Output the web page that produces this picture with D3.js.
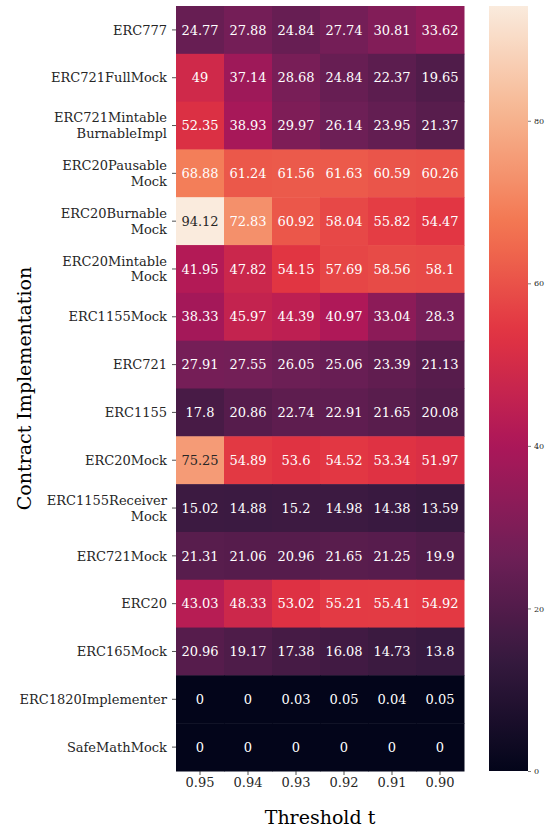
<!DOCTYPE html>
<html><head><meta charset="utf-8">
<script src="https://cdn.jsdelivr.net/npm/d3@7"></script>
<style>body{margin:0;background:#fff;} svg{display:block;font-family:"DejaVu Serif",serif;}</style>
</head><body><svg id="c" width="555" height="830"></svg>
<script>
const rows = ["ERC777","ERC721FullMock","ERC721Mintable\nBurnableImpl","ERC20Pausable\nMock","ERC20Burnable\nMock","ERC20Mintable\nMock","ERC1155Mock","ERC721","ERC1155","ERC20Mock","ERC1155Receiver\nMock","ERC721Mock","ERC20","ERC165Mock","ERC1820Implementer","SafeMathMock"];
const cols = ["0.95","0.94","0.93","0.92","0.91","0.90"];
const values = [
 [24.77,27.88,24.84,27.74,30.81,33.62],
 [49,37.14,28.68,24.84,22.37,19.65],
 [52.35,38.93,29.97,26.14,23.95,21.37],
 [68.88,61.24,61.56,61.63,60.59,60.26],
 [94.12,72.83,60.92,58.04,55.82,54.47],
 [41.95,47.82,54.15,57.69,58.56,58.1],
 [38.33,45.97,44.39,40.97,33.04,28.3],
 [27.91,27.55,26.05,25.06,23.39,21.13],
 [17.8,20.86,22.74,22.91,21.65,20.08],
 [75.25,54.89,53.6,54.52,53.34,51.97],
 [15.02,14.88,15.2,14.98,14.38,13.59],
 [21.31,21.06,20.96,21.65,21.25,19.9],
 [43.03,48.33,53.02,55.21,55.41,54.92],
 [20.96,19.17,17.38,16.08,14.73,13.8],
 [0,0,0.03,0.05,0.04,0.05],
 [0,0,0,0,0,0]
];
const cbTicks = [0,20,40,60,80];
const rocketStops = ["#03051a","#35193e","#701f57","#ad1759","#e13342","#f37651","#f6b48f","#faebdd"];

const svg = d3.select("#c");
const L=176, R=464, T=6, B=771;
const x = d3.scaleBand().domain(cols).range([L,R]);
const y = d3.scaleBand().domain(rows).range([T,B]);
const vmin = 0, vmax = d3.max(values.flat());
const rocket = d3.scaleLinear().domain(d3.range(rocketStops.length).map(i=>i/(rocketStops.length-1))).range(rocketStops).interpolate(d3.interpolateRgb);
const color = v => rocket((v-vmin)/(vmax-vmin));
function lum(c){const r=d3.rgb(c);const f=u=>{u/=255;return u<=0.03928?u/12.92:Math.pow((u+0.055)/1.055,2.4)};return 0.2126*f(r.r)+0.7152*f(r.g)+0.0722*f(r.b);}

const cells=[];
values.forEach((row,i)=>row.forEach((v,j)=>cells.push({r:rows[i],c:cols[j],v})));
svg.append("g").selectAll("rect").data(cells).join("rect")
 .attr("x",d=>x(d.c)).attr("y",d=>y(d.r)).attr("width",x.bandwidth()+0.5).attr("height",y.bandwidth()+0.5)
 .attr("fill",d=>color(d.v));
svg.append("g").selectAll("text").data(cells).join("text")
 .attr("x",d=>x(d.c)+x.bandwidth()/2).attr("y",d=>y(d.r)+y.bandwidth()/2)
 .attr("dy","0.36em").attr("text-anchor","middle").attr("font-size",13)
 .attr("fill",d=>lum(color(d.v))>0.408?"#262626":"#ffffff")
 .text(d=>String(d.v));

// y axis
const ya = svg.append("g").attr("transform",`translate(${L},0)`).call(d3.axisLeft(y).tickSize(4).tickFormat(""));
ya.select(".domain").remove();
ya.selectAll("line").attr("stroke","#262626").attr("stroke-width",0.8);
const yl = svg.append("g").selectAll("text").data(rows).join("text")
 .attr("text-anchor","end").attr("font-size",13).attr("fill","#262626")
 .attr("x",L-9).attr("y",d=>y(d)+y.bandwidth()/2);
yl.each(function(d){
  const lines=d.split("\n"); const n=lines.length;
  d3.select(this).selectAll("tspan").data(lines).join("tspan")
   .attr("x",L-9).attr("dy",(l,i)=>i===0?((0.36-(n-1)*0.6)+"em"):"1.2em").text(l=>l);
});

// x axis
const xa = svg.append("g").attr("transform",`translate(0,${B})`).call(d3.axisBottom(x).tickSize(4).tickPadding(3));
xa.select(".domain").remove();
xa.selectAll("line").attr("stroke","#262626").attr("stroke-width",0.8);
xa.selectAll("text").attr("font-size",13).attr("fill","#262626").attr("font-family","DejaVu Serif");

// titles
svg.append("text").attr("x",(L+R)/2).attr("y",824).attr("text-anchor","middle").attr("font-size",19).attr("fill","#000").text("Threshold t");
svg.append("text").attr("transform",`translate(31,${(T+B)/2}) rotate(-90)`).attr("text-anchor","middle").attr("font-size",19).attr("fill","#000").text("Contract Implementation");

// colorbar
const cbL=489, cbW=39;
const cy = d3.scaleLinear().domain([vmin,vmax]).range([B,T]);
const defs = svg.append("defs");
const grad = defs.append("linearGradient").attr("id","cb").attr("x1",0).attr("y1",1).attr("x2",0).attr("y2",0);
d3.range(0,1.0001,0.02).forEach(t=>grad.append("stop").attr("offset",t).attr("stop-color",rocket(t)));
svg.append("rect").attr("x",cbL).attr("y",T).attr("width",cbW).attr("height",B-T).attr("fill","url(#cb)");
const ca = svg.append("g").attr("transform",`translate(${cbL+cbW},0)`).call(d3.axisRight(cy).tickValues(cbTicks).tickSize(3).tickPadding(3));
ca.select(".domain").remove();
ca.selectAll("line").attr("stroke","#262626").attr("stroke-width",0.6);
ca.selectAll("text").attr("font-size",8).attr("fill","#262626").attr("font-family","DejaVu Serif");
</script></body></html>
